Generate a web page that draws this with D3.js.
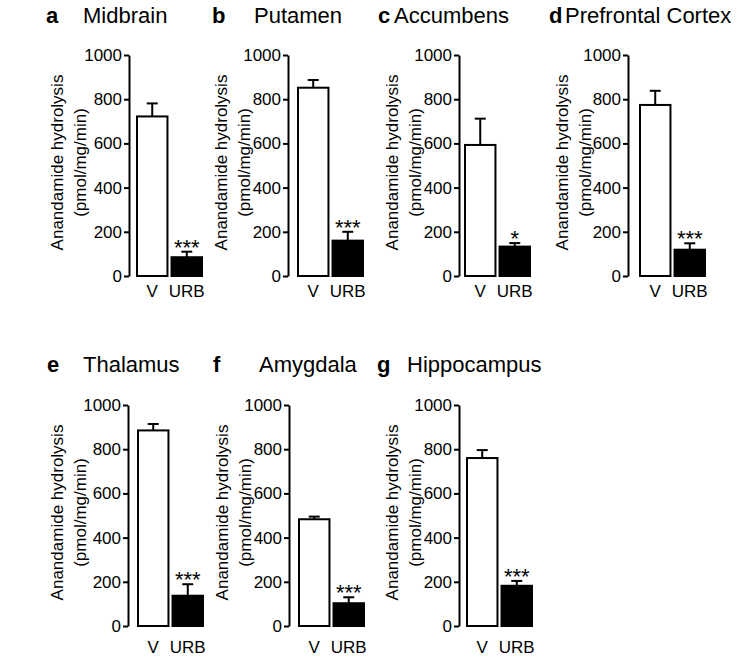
<!DOCTYPE html>
<html>
<head>
<meta charset="utf-8">
<script src="https://cdn.jsdelivr.net/npm/d3@7"></script>
<style>
  html, body { margin: 0; padding: 0; background: #fff; }
  svg text { font-family: "Liberation Sans", Arial, Helvetica, sans-serif; fill: #000; }
</style>
</head>
<body>
<svg id="chart" width="750" height="672"></svg>
<script>
// ---- data ----
const panelLetters = ["a", "b", "c", "d", "e", "f", "g"];
const regions = ["Midbrain", "Putamen", "Accumbens", "Prefrontal Cortex", "Thalamus", "Amygdala", "Hippocampus"];
const groups = ["V", "URB"];
const vehicleMeans = [722, 852, 593, 774, 885, 483, 760];
const vehicleSEM   = [59, 35, 119, 64, 29, 12, 36];
const urbMeans     = [85, 160, 133, 119, 137, 103, 182];
const urbSEM       = [25, 40, 16, 29, 52, 27, 22];
const significance = ["***", "***", "*", "***", "***", "***", "***"];
const yTicks = [0, 200, 400, 600, 800, 1000];
const yLabelLines = ["Anandamide hydrolysis", "(pmol/mg/min)"];

// ---- layout (positions only) ----
const axisX    = [129, 288, 459, 628, 128, 289, 459];
const barOff   = [7, 9, 5, 11, 9, 9, 7];
const rowIdx   = [0, 0, 0, 0, 1, 1, 1];
const rowTop   = [55, 405];
const rowBot   = [276, 626];
const titleY   = [23, 372];
const xLabDy   = [21, 27];
const letterX  = [46, 212, 378, 549, 47, 213, 377];
const nameX    = [83, 254, 394, 565, 83, 259, 407];
const yLabOff  = [-72, -67, -67, -66, -71, -67, -67];

const svg = d3.select("#chart");
const FONT = 17;

panelLetters.forEach((letter, i) => {
  const r = rowIdx[i];
  const ax = axisX[i];
  const g = svg.append("g");

  const y = d3.scaleLinear().domain([0, 1000]).range([rowBot[r], rowTop[r]]);
  const x0 = ax + barOff[i];
  const xb = d3.scaleBand().domain(groups).range([x0, x0 + 67]).paddingInner(0.06).paddingOuter(0);

  // title
  g.append("text").attr("x", letterX[i]).attr("y", titleY[r])
    .attr("font-size", 22).attr("font-weight", "bold").text(letter);
  g.append("text").attr("x", nameX[i]).attr("y", titleY[r])
    .attr("font-size", 22).text(regions[i]);

  // axis
  const axis = d3.axisLeft(y).tickValues(yTicks).tickFormat(d3.format("d"))
    .tickSize(5).tickSizeOuter(0).tickPadding(2);
  const ag = g.append("g").attr("transform", `translate(${ax},0)`).call(axis);
  ag.select(".domain").attr("stroke", "#000").attr("stroke-width", 2);
  ag.selectAll(".tick line").attr("stroke", "#000").attr("stroke-width", 2);
  ag.selectAll(".tick text").attr("font-size", FONT)
    .attr("font-family", "Liberation Sans, Arial, sans-serif").attr("fill", "#000");

  // y label
  const yc = (rowTop[r] + rowBot[r]) / 2 - 3;
  yLabelLines.forEach((t, k) => {
    g.append("text")
      .attr("transform", `translate(${ax + yLabOff[i] + k * 23},${yc}) rotate(-90)`)
      .attr("text-anchor", "middle").attr("dominant-baseline", "central")
      .attr("font-size", FONT).text(t);
  });

  const means = [vehicleMeans[i], urbMeans[i]];
  const sems = [vehicleSEM[i], urbSEM[i]];
  const fills = ["#fff", "#000"];

  groups.forEach((grp, k) => {
    const cx = xb(grp) + xb.bandwidth() / 2;
    // error bar
    g.append("line").attr("x1", cx).attr("x2", cx)
      .attr("y1", y(means[k])).attr("y2", y(means[k] + sems[k]))
      .attr("stroke", "#000").attr("stroke-width", 2);
    g.append("line").attr("x1", cx - 5.5).attr("x2", cx + 5.5)
      .attr("y1", y(means[k] + sems[k])).attr("y2", y(means[k] + sems[k]))
      .attr("stroke", "#000").attr("stroke-width", 2);
    // bar
    g.append("rect")
      .attr("x", xb(grp) + 1).attr("width", xb.bandwidth() - 2)
      .attr("y", y(means[k])).attr("height", y(0) - y(means[k]))
      .attr("fill", fills[k]).attr("stroke", "#000").attr("stroke-width", 2);
    // x label
    g.append("text").attr("x", cx).attr("y", rowBot[r] + xLabDy[r])
      .attr("text-anchor", "middle").attr("font-size", FONT).text(grp);
  });

  // significance stars
  const ucx = xb("URB") + xb.bandwidth() / 2;
  g.append("text").attr("x", ucx).attr("y", y(urbMeans[i] + urbSEM[i]) + 3)
    .attr("text-anchor", "middle").attr("font-size", 22).text(significance[i]);
});
</script>
</body>
</html>
